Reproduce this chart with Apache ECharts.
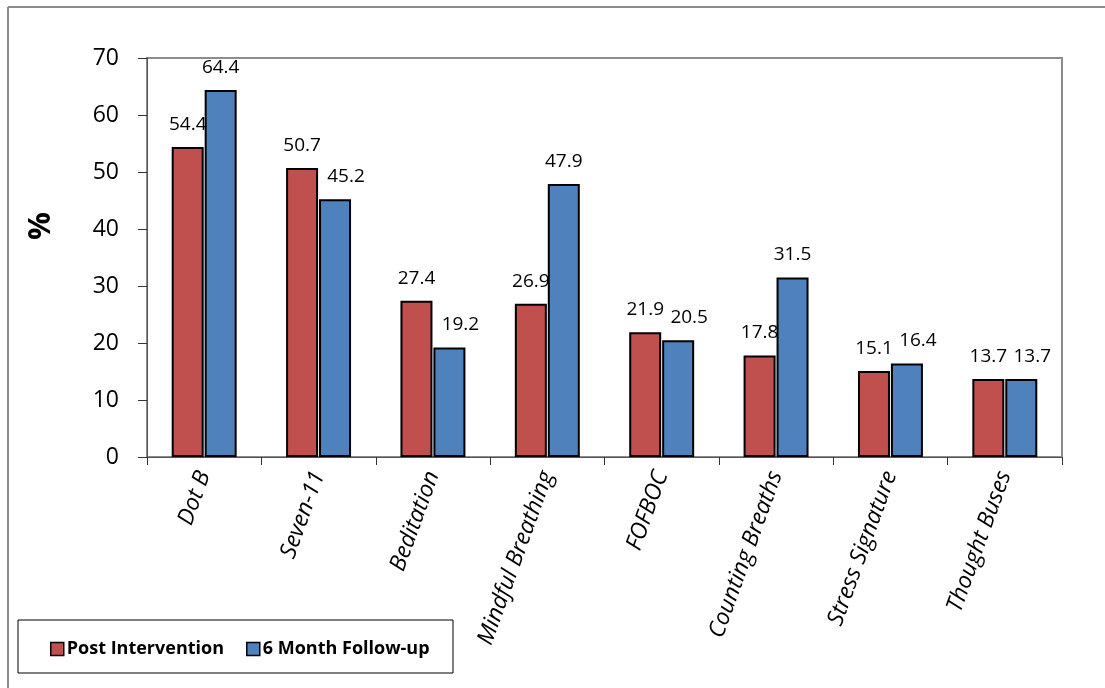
<!DOCTYPE html>
<html>
<head>
<meta charset="utf-8">
<script src="https://cdn.jsdelivr.net/npm/echarts@6/dist/echarts.min.js"></script>
<style>
  html, body { margin: 0; padding: 0; background: #fff; }
  #chart { width: 1105px; height: 688px; }
</style>
</head>
<body>
<div id="chart"></div>
<script>
const categories = ['Dot B', 'Seven-11', 'Beditation', 'Mindful Breathing', 'FOFBOC', 'Counting Breaths', 'Stress Signature', 'Thought Buses']
const postIntervention = [54.4, 50.7, 27.4, 26.9, 21.9, 17.8, 15.1, 13.7]
const followUp = [64.4, 45.2, 19.2, 47.9, 20.5, 31.5, 16.4, 13.7]

const font = '"Open Sans"'
const chart = echarts.init(document.getElementById('chart'))

const labelStyle = {
  show: true,
  position: 'top',
  distance: 13,
  fontFamily: font,
  fontSize: 19,
  color: '#000',
  formatter: (p) => p.value.toFixed(1),
}

// blue labels are nudged right when they sit near the red ones
const followUpData = followUp.map((v, i) => ({
  value: v,
  label: Math.abs(v - postIntervention[i]) < 9 ? { offset: [11, 0] } : {},
}))

chart.setOption({
  animation: false,
  textStyle: { fontFamily: font },
  grid: { left: 147, right: 43, top: 58, bottom: 231, show: true, borderColor: '#8c8c8c', borderWidth: 2 },
  graphic: [
    { type: 'line', shape: { x1: 8, y1: 7, x2: 1105, y2: 7 }, style: { stroke: '#8c8c8c', lineWidth: 2 } },
    { type: 'line', shape: { x1: 8, y1: 7, x2: 8, y2: 688 }, style: { stroke: '#8c8c8c', lineWidth: 2 } },
    { type: 'rect', shape: { x: 18, y: 620, width: 435, height: 53 }, style: { fill: '#fff', stroke: '#000', lineWidth: 1 } },
    {
      type: 'text', left: 26, top: 212, rotation: Math.PI / 2,
      style: { text: '%', font: 'bold 31px ' + font, fill: '#000' },
    },
  ],
  legend: {
    left: 45,
    top: 635,
    itemWidth: 13,
    itemHeight: 13,
    itemGap: 22,
    icon: 'rect',
    textStyle: { fontFamily: font, fontWeight: 'bold', fontSize: 18, color: '#000', padding: [0, 0, 0, -2] },
    itemStyle: { borderColor: '#000', borderWidth: 1.5 },
    data: ['Post Intervention', '6 Month Follow-up'],
  },
  xAxis: {
    type: 'category',
    data: categories,
    axisLine: { lineStyle: { color: '#555', width: 1 } },
    axisTick: { show: true, length: 8, lineStyle: { color: '#333' } },
    axisLabel: { rotate: 70, margin: 15, interval: 0, fontFamily: font, fontStyle: 'italic', fontSize: 23, color: '#000' },
  },
  yAxis: {
    type: 'value',
    min: 0,
    max: 70,
    interval: 10,
    splitLine: { show: false },
    axisLine: { show: true, lineStyle: { color: '#555', width: 1 } },
    axisTick: { show: true, length: 9, lineStyle: { color: '#333' } },
    axisLabel: { margin: 28, fontFamily: font, fontSize: 23, color: '#000' },
  },
  series: [
    {
      name: 'Post Intervention',
      type: 'bar',
      data: postIntervention,
      barWidth: 32,
      barGap: '3%',
      itemStyle: { color: '#C0504D', borderColor: '#000', borderWidth: 2 },
      label: labelStyle,
    },
    {
      name: '6 Month Follow-up',
      type: 'bar',
      data: followUpData,
      barWidth: 32,
      barGap: '3%',
      itemStyle: { color: '#4F81BD', borderColor: '#000', borderWidth: 2 },
      label: labelStyle,
    },
  ],
})
</script>
</body>
</html>
